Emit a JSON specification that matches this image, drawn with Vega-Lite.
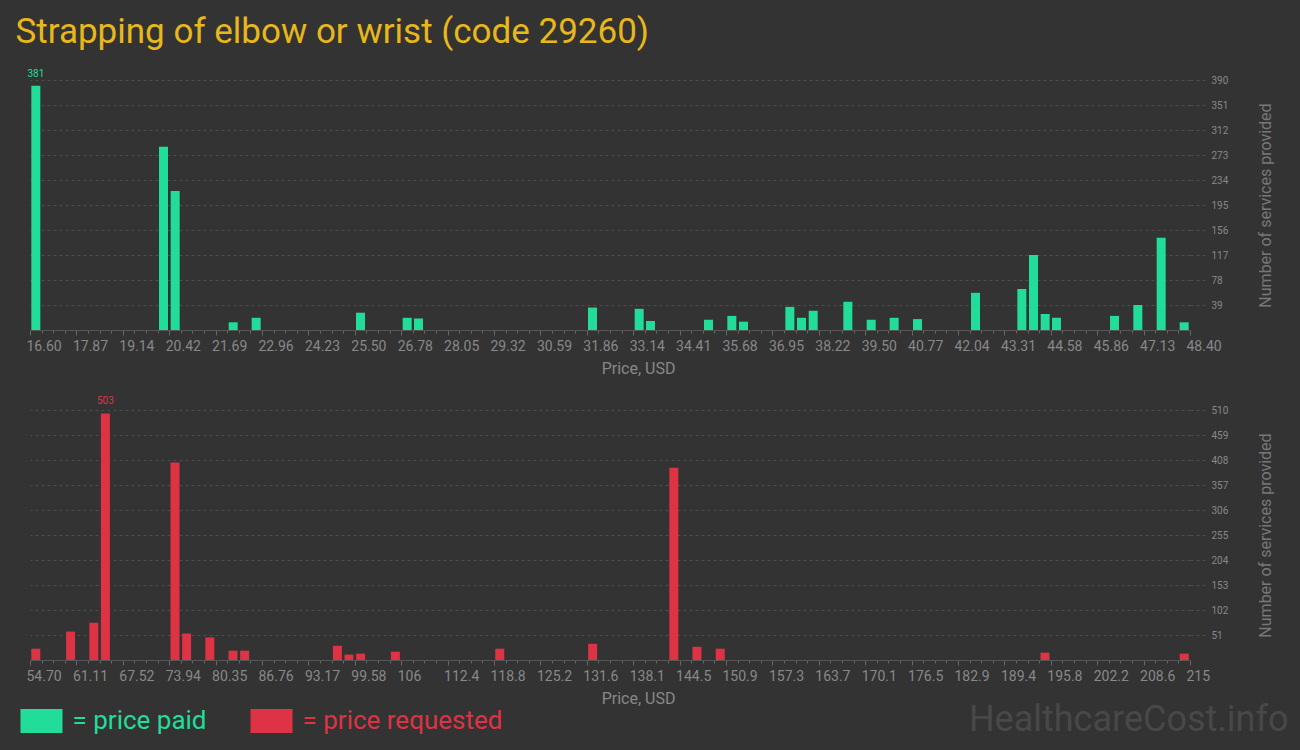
{
  "$schema": "https://vega.github.io/schema/vega-lite/v6.json",
  "background": "#333333",
  "padding": {"left": 15, "top": 14, "right": 13, "bottom": 30},
  "bounds": "flush",
  "spacing": 80,
  "title": {
    "text": "Strapping of elbow or wrist (code 29260)",
    "anchor": "start",
    "frame": "group",
    "dx": -14.5,
    "offset": 19,
    "font": "Roboto",
    "fontSize": 35,
    "fontWeight": "normal",
    "color": "#e8b71a"
  },
  "config": {
    "view": {"stroke": null},
    "axis": {
      "labelFont": "Roboto",
      "labelColor": "#888888",
      "titleFont": "Roboto",
      "titleColor": "#888888",
      "titleFontWeight": "normal",
      "domainColor": "#555555",
      "tickColor": "#666666",
      "gridColor": "#4d4d4d",
      "gridDash": [3, 3]
    }
  },
  "resolve": {
    "scale": {"x": "independent", "y": "independent", "color": "shared"},
    "legend": {"color": "shared"}
  },
  "vconcat": [
    {
      "width": 1160,
      "height": 250,
      "data": {
        "values": [
          {"price": 16.76, "services": 381, "kind": "paid"},
          {"price": 20.26, "services": 286, "kind": "paid"},
          {"price": 20.58, "services": 217, "kind": "paid"},
          {"price": 22.17, "services": 12, "kind": "paid"},
          {"price": 22.80, "services": 19, "kind": "paid"},
          {"price": 25.66, "services": 27, "kind": "paid"},
          {"price": 26.94, "services": 19, "kind": "paid"},
          {"price": 27.25, "services": 18, "kind": "paid"},
          {"price": 32.02, "services": 35, "kind": "paid"},
          {"price": 33.30, "services": 33, "kind": "paid"},
          {"price": 33.61, "services": 14, "kind": "paid"},
          {"price": 35.20, "services": 16, "kind": "paid"},
          {"price": 35.84, "services": 22, "kind": "paid"},
          {"price": 36.16, "services": 13, "kind": "paid"},
          {"price": 37.43, "services": 36, "kind": "paid"},
          {"price": 37.75, "services": 19, "kind": "paid"},
          {"price": 38.07, "services": 30, "kind": "paid"},
          {"price": 39.02, "services": 44, "kind": "paid"},
          {"price": 39.66, "services": 16, "kind": "paid"},
          {"price": 40.29, "services": 19, "kind": "paid"},
          {"price": 40.93, "services": 17, "kind": "paid"},
          {"price": 42.52, "services": 58, "kind": "paid"},
          {"price": 43.79, "services": 64, "kind": "paid"},
          {"price": 44.11, "services": 117, "kind": "paid"},
          {"price": 44.43, "services": 25, "kind": "paid"},
          {"price": 44.74, "services": 19, "kind": "paid"},
          {"price": 46.33, "services": 22, "kind": "paid"},
          {"price": 46.97, "services": 39, "kind": "paid"},
          {"price": 47.61, "services": 144, "kind": "paid"},
          {"price": 48.24, "services": 12, "kind": "paid"}
        ]
      },
      "layer": [
        {
          "mark": {"type": "bar", "width": 9},
          "encoding": {
            "x": {
              "field": "price",
              "type": "quantitative",
              "scale": {"domain": [16.6, 48.4], "nice": false, "zero": false, "padding": 0},
              "axis": {
                "values": [16.6,16.918,17.236,17.554,17.872,18.19,18.508,18.826,19.144,19.462,19.78,20.098,20.416,20.734,21.052,21.37,21.688,22.006,22.324,22.642,22.96,23.278,23.596,23.914,24.232,24.55,24.868,25.186,25.504,25.822,26.14,26.458,26.776,27.094,27.412,27.73,28.048,28.366,28.684,29.002,29.32,29.638,29.956,30.274,30.592,30.91,31.228,31.546,31.864,32.182,32.5,32.818,33.136,33.454,33.772,34.09,34.408,34.726,35.044,35.362,35.68,35.998,36.316,36.634,36.952,37.27,37.588,37.906,38.224,38.542,38.86,39.178,39.496,39.814,40.132,40.45,40.768,41.086,41.404,41.722,42.04,42.358,42.676,42.994,43.312,43.63,43.948,44.266,44.584,44.902,45.22,45.538,45.856,46.174,46.492,46.81,47.128,47.446,47.764,48.082,48.4],
                "tickCount": 101,
                "labelExpr": "round((datum.value - 16.6) / 0.318) % 4 == 0 ? format(datum.value, '.2f') : ''",
                "tickSize": {"condition": {"test": "round((datum.value - 16.6) / 0.318) % 4 == 0", "value": 5}, "value": 3},
                "labelOverlap": false,
                "labelBound": false,
                "labelFlush": false,
                "labelAlign": "left",
                "labelOffset": -4,
                "labelFontSize": 14,
                "labelPadding": 4,
                "grid": false,
                "title": "Price, USD",
                "titleFontSize": 16,
                "titleX": 608,
                "titlePadding": 7
              }
            },
            "y": {
              "field": "services",
              "type": "quantitative",
              "scale": {"domain": [0, 390], "nice": false},
              "axis": {
                "orient": "right",
                "values": [39, 78, 117, 156, 195, 234, 273, 312, 351, 390],
                "tickCount": 10,
                "labelOverlap": false,
                "domain": false,
                "tickSize": 18,
                "tickDash": [3, 3],
                "tickColor": "#4d4d4d",
                "labelPadding": 3,
                "labelFontSize": 10,
                "title": "Number of services provided",
                "titleAngle": 270,
                "titleFontSize": 16,
                "titleColor": "#777777",
                "titlePadding": 45.5
              }
            },
            "color": {
              "field": "kind",
              "type": "nominal",
              "scale": {"domain": ["paid", "requested"], "range": ["#22dd99", "#dd3344"]},
              "legend": {
                "orient": "none",
                "legendX": -9.5,
                "legendY": 620,
                "direction": "horizontal",
                "title": null,
                "symbolType": "M-1,-0.571L1,-0.571L1,0.571L-1,0.571Z",
                "symbolSize": 1764,
                "symbolStrokeWidth": 0,
                "symbolOpacity": 1,
                "labelFont": "Roboto",
                "labelFontSize": 26,
                "labelOffset": 10,
                "columnPadding": 43,
                "labelExpr": "datum.value == 'paid' ? '= price paid' : '= price requested'",
                "labelLimit": 400,
                "encode": {"labels": {"update": {"fill": {"signal": "datum.value == 'paid' ? '#22dd99' : '#dd3344'"}}}}
              }
            }
          }
        },
        {
          "transform": [{"filter": "datum.services == 381"}],
          "mark": {"type": "text", "baseline": "bottom", "dy": -7, "color": "#22dd99", "font": "Roboto", "fontSize": 10},
          "encoding": {
            "x": {"field": "price", "type": "quantitative"},
            "y": {"field": "services", "type": "quantitative"},
            "text": {"field": "services", "type": "quantitative"}
          }
        }
      ]
    },
    {
      "width": 1160,
      "height": 250,
      "title": {
        "text": "HealthcareCost.info",
        "orient": "bottom",
        "anchor": "end",
        "frame": "group",
        "dx": 98.5,
        "offset": -3,
        "font": "Roboto",
        "fontSize": 36,
        "fontWeight": "normal",
        "color": "#484848"
      },
      "data": {
        "values": [
          {"price": 55.50, "services": 23, "kind": "requested"},
          {"price": 60.31, "services": 58, "kind": "requested"},
          {"price": 63.52, "services": 76, "kind": "requested"},
          {"price": 65.12, "services": 503, "kind": "requested"},
          {"price": 74.74, "services": 403, "kind": "requested"},
          {"price": 76.34, "services": 54, "kind": "requested"},
          {"price": 79.55, "services": 46, "kind": "requested"},
          {"price": 82.75, "services": 19, "kind": "requested"},
          {"price": 84.36, "services": 19, "kind": "requested"},
          {"price": 97.18, "services": 29, "kind": "requested"},
          {"price": 98.78, "services": 11, "kind": "requested"},
          {"price": 100.39, "services": 13, "kind": "requested"},
          {"price": 105.19, "services": 17, "kind": "requested"},
          {"price": 119.62, "services": 23, "kind": "requested"},
          {"price": 132.45, "services": 33, "kind": "requested"},
          {"price": 143.67, "services": 392, "kind": "requested"},
          {"price": 146.87, "services": 27, "kind": "requested"},
          {"price": 150.08, "services": 23, "kind": "requested"},
          {"price": 194.96, "services": 15, "kind": "requested"},
          {"price": 214.20, "services": 13, "kind": "requested"}
        ]
      },
      "layer": [
        {
          "mark": {"type": "bar", "width": 9},
          "encoding": {
            "x": {
              "field": "price",
              "type": "quantitative",
              "scale": {"domain": [54.7, 215], "nice": false, "zero": false, "padding": 0},
              "axis": {
                "values": [54.7,56.303,57.906,59.509,61.112,62.715,64.318,65.921,67.524,69.127,70.73,72.333,73.936,75.539,77.142,78.745,80.348,81.951,83.554,85.157,86.76,88.363,89.966,91.569,93.172,94.775,96.378,97.981,99.584,101.187,102.79,104.393,105.996,107.599,109.202,110.805,112.408,114.011,115.614,117.217,118.82,120.423,122.026,123.629,125.232,126.835,128.438,130.041,131.644,133.247,134.85,136.453,138.056,139.659,141.262,142.865,144.468,146.071,147.674,149.277,150.88,152.483,154.086,155.689,157.292,158.895,160.498,162.101,163.704,165.307,166.91,168.513,170.116,171.719,173.322,174.925,176.528,178.131,179.734,181.337,182.94,184.543,186.146,187.749,189.352,190.955,192.558,194.161,195.764,197.367,198.97,200.573,202.176,203.779,205.382,206.985,208.588,210.191,211.794,213.397,215],
                "tickCount": 101,
                "labelExpr": "round((datum.value - 54.7) / 1.603) % 4 == 0 ? (datum.value < 100 ? format(datum.value, '.2f') : format(datum.value, '.4~r')) : ''",
                "tickSize": {"condition": {"test": "round((datum.value - 54.7) / 1.603) % 4 == 0", "value": 5}, "value": 3},
                "labelOverlap": false,
                "labelBound": false,
                "labelFlush": false,
                "labelAlign": "left",
                "labelOffset": -4,
                "labelFontSize": 14,
                "labelPadding": 4,
                "grid": false,
                "title": "Price, USD",
                "titleFontSize": 16,
                "titleX": 608,
                "titlePadding": 7
              }
            },
            "y": {
              "field": "services",
              "type": "quantitative",
              "scale": {"domain": [0, 510], "nice": false},
              "axis": {
                "orient": "right",
                "values": [51, 102, 153, 204, 255, 306, 357, 408, 459, 510],
                "tickCount": 10,
                "labelOverlap": false,
                "domain": false,
                "tickSize": 18,
                "tickDash": [3, 3],
                "tickColor": "#4d4d4d",
                "labelPadding": 3,
                "labelFontSize": 10,
                "title": "Number of services provided",
                "titleAngle": 270,
                "titleFontSize": 16,
                "titleColor": "#777777",
                "titlePadding": 45.5
              }
            },
            "color": {
              "field": "kind",
              "type": "nominal",
              "scale": {"domain": ["paid", "requested"], "range": ["#22dd99", "#dd3344"]},
              "legend": {
                "orient": "none",
                "legendX": -9.5,
                "legendY": 620,
                "direction": "horizontal",
                "title": null,
                "symbolType": "M-1,-0.571L1,-0.571L1,0.571L-1,0.571Z",
                "symbolSize": 1764,
                "symbolStrokeWidth": 0,
                "symbolOpacity": 1,
                "labelFont": "Roboto",
                "labelFontSize": 26,
                "labelOffset": 10,
                "columnPadding": 43,
                "labelExpr": "datum.value == 'paid' ? '= price paid' : '= price requested'",
                "labelLimit": 400,
                "encode": {"labels": {"update": {"fill": {"signal": "datum.value == 'paid' ? '#22dd99' : '#dd3344'"}}}}
              }
            }
          }
        },
        {
          "transform": [{"filter": "datum.services == 503"}],
          "mark": {"type": "text", "baseline": "bottom", "dy": -7, "color": "#dd3344", "font": "Roboto", "fontSize": 10},
          "encoding": {
            "x": {"field": "price", "type": "quantitative"},
            "y": {"field": "services", "type": "quantitative"},
            "text": {"field": "services", "type": "quantitative"}
          }
        }
      ]
    }
  ]
}
